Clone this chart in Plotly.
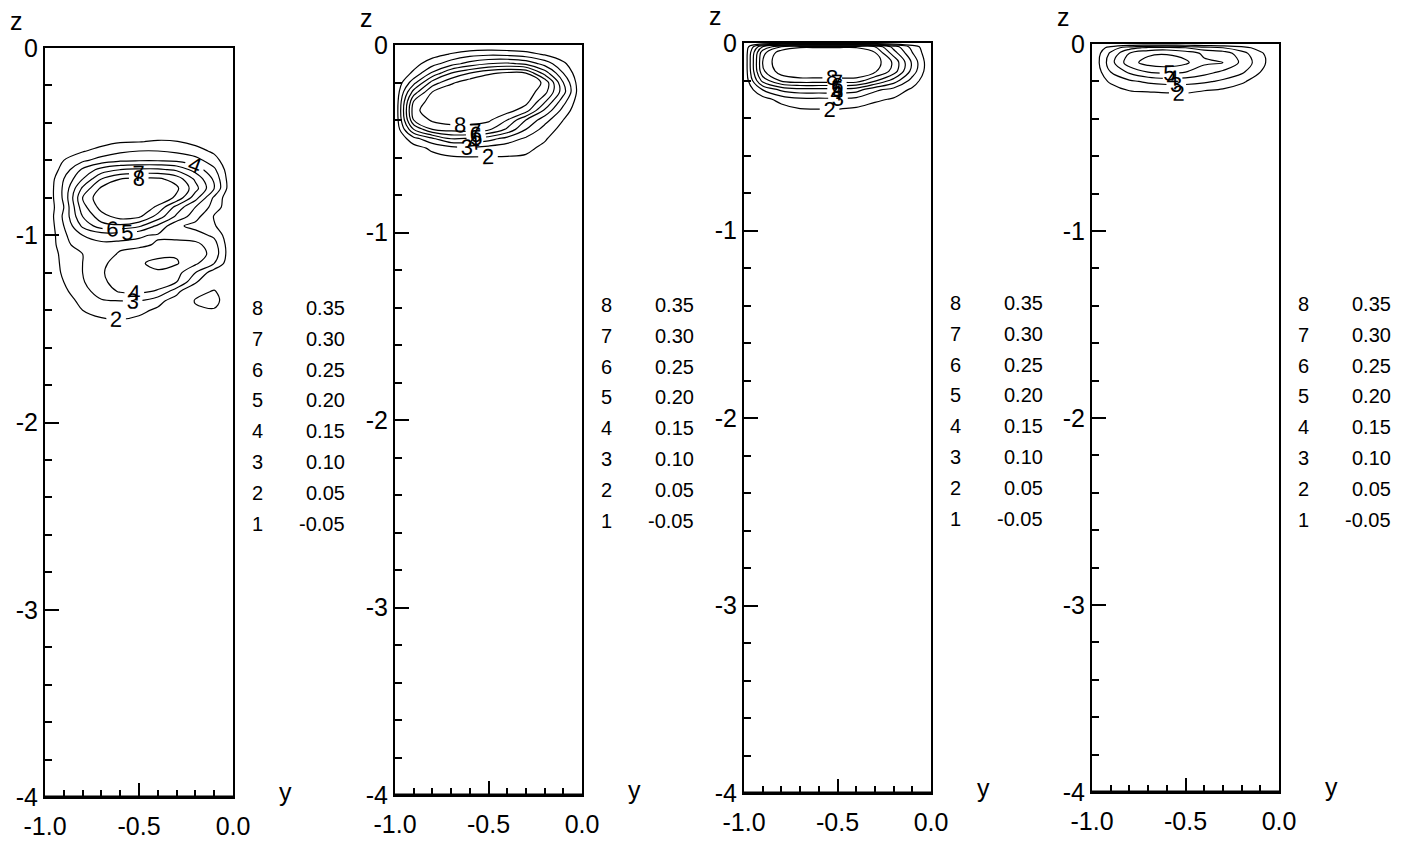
import plotly.graph_objects as go

FONT = "Liberation Sans, Arial, Helvetica, sans-serif"
W, H = 1412, 844

# contour level index -> value (shown as a key beside each panel)
LEVEL_IDS = [1, 2, 3, 4, 5, 6, 7, 8]
LEVEL_VALUES = [-0.05, 0.05, 0.10, 0.15, 0.20, 0.25, 0.30, 0.35]

# horizontal coordinate y of the field samples
Y_GRID = [-1.0, -0.9, -0.8, -0.7, -0.6, -0.5, -0.4, -0.3, -0.2, -0.1, 0.0]

# ---- panel 1: field sampled on rows of constant z -------------------------
Z_GRID_1 = [0.0, -0.45, -0.50, -0.55, -0.60, -0.65, -0.70, -0.75, -0.80, -0.85,
            -0.90, -0.95, -1.00, -1.05, -1.10, -1.15, -1.20, -1.25, -1.30,
            -1.35, -1.40, -1.45, -1.50, -4.0]
FIELD_1 = [
    [0, 0, 0, 0, 0, 0, 0, 0, 0, 0, 0],
    [0, 0, 0, 0.01, 0.02, 0.02, 0.02, 0.02, 0.01, 0, 0],
    [0, 0, 0.01, 0.03, 0.045, 0.048, 0.055, 0.052, 0.035, 0.01, 0],
    [0, 0.02, 0.045, 0.07, 0.09, 0.10, 0.10, 0.09, 0.07, 0.04, 0],
    [0, 0.05, 0.09, 0.12, 0.14, 0.145, 0.145, 0.14, 0.12, 0.07, 0],
    [0, 0.07, 0.16, 0.22, 0.25, 0.26, 0.26, 0.24, 0.18, 0.11, 0],
    [0, 0.10, 0.20, 0.30, 0.35, 0.36, 0.36, 0.33, 0.24, 0.14, 0],
    [0, 0.11, 0.26, 0.36, 0.40, 0.41, 0.40, 0.36, 0.27, 0.15, 0],
    [0, 0.11, 0.30, 0.39, 0.41, 0.41, 0.39, 0.34, 0.22, 0.09, 0],
    [0, 0.10, 0.28, 0.37, 0.40, 0.39, 0.34, 0.23, 0.15, 0.08, 0],
    [0, 0.11, 0.25, 0.33, 0.37, 0.36, 0.28, 0.19, 0.12, 0.045, 0],
    [0, 0.10, 0.21, 0.28, 0.29, 0.26, 0.19, 0.11, 0.085, 0.055, 0],
    [0, 0.09, 0.15, 0.17, 0.165, 0.155, 0.145, 0.135, 0.12, 0.09, 0],
    [0, 0.085, 0.125, 0.14, 0.14, 0.14, 0.155, 0.165, 0.165, 0.12, 0],
    [0, 0.07, 0.10, 0.13, 0.155, 0.17, 0.19, 0.195, 0.18, 0.13, 0],
    [0, 0.065, 0.10, 0.14, 0.17, 0.195, 0.21, 0.205, 0.16, 0.10, 0],
    [0, 0.06, 0.10, 0.145, 0.175, 0.195, 0.195, 0.17, 0.10, 0.02, 0],
    [0, 0.05, 0.095, 0.14, 0.17, 0.175, 0.17, 0.15, 0.06, -0.02, 0],
    [0, 0.04, 0.08, 0.125, 0.155, 0.16, 0.145, 0.07, -0.03, -0.055, 0],
    [0, 0.025, 0.065, 0.095, 0.10, 0.10, 0.07, 0.02, -0.055, -0.07, 0],
    [0, 0.01, 0.05, 0.07, 0.075, 0.065, 0.04, 0.0, -0.04, -0.045, 0],
    [0, 0, 0.03, 0.045, 0.05, 0.04, 0.02, 0, -0.02, -0.02, 0],
    [0, 0, 0.01, 0.02, 0.02, 0.015, 0.01, 0, -0.01, -0.01, 0],
    [0, 0, 0, 0, 0, 0, 0, 0, 0, 0, 0],
]

# ---- panel 2 ----------------------------------------------------------------
Z_GRID_2 = [0.0, -0.05, -0.10, -0.15, -0.20, -0.25, -0.30, -0.35, -0.40,
            -0.45, -0.50, -0.55, -0.60, -0.65, -4.0]
FIELD_2 = [
    [0, 0, 0, 0, 0, 0, 0, 0, 0, 0, 0],
    [0, 0.01, 0.03, 0.055, 0.08, 0.09, 0.085, 0.07, 0.045, 0.02, 0],
    [0, 0.03, 0.08, 0.13, 0.17, 0.20, 0.21, 0.19, 0.13, 0.06, 0],
    [0, 0.06, 0.16, 0.25, 0.30, 0.34, 0.36, 0.35, 0.23, 0.10, 0],
    [0, 0.13, 0.27, 0.34, 0.38, 0.40, 0.40, 0.39, 0.34, 0.15, 0],
    [0, 0.22, 0.35, 0.39, 0.40, 0.40, 0.40, 0.38, 0.32, 0.17, 0],
    [0, 0.30, 0.38, 0.40, 0.41, 0.41, 0.40, 0.37, 0.26, 0.12, 0],
    [0, 0.33, 0.39, 0.40, 0.40, 0.39, 0.37, 0.32, 0.19, 0.08, 0],
    [0, 0.30, 0.36, 0.38, 0.37, 0.36, 0.30, 0.20, 0.12, 0.05, 0],
    [0, 0.20, 0.30, 0.32, 0.33, 0.31, 0.24, 0.15, 0.08, 0.03, 0],
    [0, 0.08, 0.14, 0.20, 0.19, 0.17, 0.13, 0.09, 0.055, 0.02, 0],
    [0, 0.03, 0.06, 0.08, 0.09, 0.08, 0.07, 0.06, 0.04, 0.01, 0],
    [0, 0, 0.035, 0.045, 0.047, 0.047, 0.047, 0.045, 0.02, 0, 0],
    [0, 0, 0.01, 0.02, 0.02, 0.02, 0.02, 0.02, 0.01, 0, 0],
    [0, 0, 0, 0, 0, 0, 0, 0, 0, 0, 0],
]

# ---- panel 3 ----------------------------------------------------------------
Z_GRID_3 = [0.0, -0.02, -0.05, -0.10, -0.15, -0.20, -0.25, -0.30, -0.35,
            -0.40, -4.0]
FIELD_3 = [
    [0, 0, 0, 0, 0, 0, 0, 0, 0, 0, 0],
    [0, 0.20, 0.30, 0.34, 0.34, 0.34, 0.34, 0.30, 0.18, 0.08, 0],
    [0, 0.28, 0.38, 0.40, 0.40, 0.40, 0.40, 0.35, 0.22, 0.10, 0],
    [0, 0.30, 0.40, 0.42, 0.42, 0.42, 0.42, 0.38, 0.29, 0.14, 0],
    [0, 0.29, 0.38, 0.40, 0.40, 0.40, 0.40, 0.36, 0.28, 0.13, 0],
    [0, 0.22, 0.31, 0.33, 0.33, 0.33, 0.33, 0.26, 0.18, 0.08, 0],
    [0, 0.10, 0.16, 0.18, 0.18, 0.18, 0.17, 0.11, 0.08, 0.04, 0],
    [0, 0.03, 0.07, 0.09, 0.09, 0.09, 0.085, 0.06, 0.045, 0.01, 0],
    [0, 0.01, 0.03, 0.05, 0.052, 0.052, 0.045, 0.03, 0.02, 0, 0],
    [0, 0, 0, 0.01, 0.01, 0.01, 0.01, 0, 0, 0, 0],
    [0, 0, 0, 0, 0, 0, 0, 0, 0, 0, 0],
]

# ---- panel 4 ----------------------------------------------------------------
Z_GRID_4 = [0.0, -0.02, -0.05, -0.10, -0.15, -0.20, -0.25, -0.30, -0.35, -4.0]
FIELD_4 = [
    [0, 0, 0, 0, 0, 0, 0, 0, 0, 0, 0],
    [0, 0.07, 0.13, 0.16, 0.17, 0.15, 0.12, 0.10, 0.07, 0.03, 0],
    [0, 0.11, 0.20, 0.24, 0.245, 0.23, 0.19, 0.18, 0.12, 0.06, 0],
    [0, 0.13, 0.23, 0.27, 0.28, 0.26, 0.21, 0.20, 0.14, 0.07, 0],
    [0, 0.10, 0.16, 0.20, 0.21, 0.20, 0.17, 0.14, 0.11, 0.05, 0],
    [0, 0.06, 0.09, 0.11, 0.12, 0.12, 0.11, 0.09, 0.06, 0.02, 0],
    [0, 0.02, 0.05, 0.055, 0.06, 0.06, 0.05, 0.04, 0.02, 0, 0],
    [0, 0, 0.01, 0.01, 0.015, 0.02, 0.01, 0, 0, 0, 0],
    [0, 0, 0, 0, 0, 0, 0, 0, 0, 0, 0],
    [0, 0, 0, 0, 0, 0, 0, 0, 0, 0, 0],
]

X_TICKS = [-1.0, -0.5, 0.0]
X_TICK_TEXT = ["-1.0", "-0.5", "0.0"]
Z_TICKS = [0, -1, -2, -3, -4]
Z_TICK_TEXT = ["0", "-1", "-2", "-3", "-4"]

# plot boxes in screen pixels: left, right, top, bottom
BOXES = [
    (45, 233, 48, 797),
    (395, 582, 45, 795),
    (744, 931, 43, 793),
    (1092, 1279, 44, 792),
]
FIELDS = [(Z_GRID_1, FIELD_1), (Z_GRID_2, FIELD_2),
          (Z_GRID_3, FIELD_3), (Z_GRID_4, FIELD_4)]


def px_x(p):
    return p / W


def px_y(p):
    return 1 - p / H


fig = go.Figure()
annotations = []
shapes = []

for i, ((zg, field), (l, r, t, b)) in enumerate(zip(FIELDS, BOXES)):
    n = "" if i == 0 else str(i + 1)
    xa, ya = "x" + n, "y" + n

    # ascending z for the contour routine
    zs = list(reversed(zg))
    rows = list(reversed(field))

    for lid, lval in zip(LEVEL_IDS, LEVEL_VALUES):
        # shift the field so the level sits at its index; labels then show the index
        shifted = [[v - lval + lid for v in row] for row in rows]
        fig.add_trace(go.Contour(
            x=Y_GRID, y=zs, z=shifted,
            autocontour=False,
            contours=dict(start=lid, end=lid, size=1, coloring="none",
                          showlabels=True, labelformat=".0f",
                          labelfont=dict(family=FONT, size=22, color="black")),
            line=dict(color="black", width=1.2, smoothing=1.0),
            showscale=False, hoverinfo="skip",
            xaxis=xa, yaxis=ya,
        ))

    axis_common = dict(showline=True, linecolor="black", linewidth=2, mirror=True,
                       ticks="inside", ticklen=14, tickwidth=1.5, tickcolor="black",
                       showgrid=False, zeroline=False, automargin=False,
                       tickfont=dict(family=FONT, size=25, color="black"))
    fig.layout["xaxis" + n] = dict(
        axis_common, domain=[px_x(l), px_x(r)], range=[-1, 0], anchor=ya,
        tickmode="array", tickvals=X_TICKS, ticktext=X_TICK_TEXT,
        ticklabelstandoff=6,
        minor=dict(ticks="inside", ticklen=7, tickwidth=1.5, tickcolor="black",
                   tickmode="linear", tick0=0, dtick=0.1, showgrid=False),
    )
    fig.layout["yaxis" + n] = dict(
        axis_common, domain=[px_y(b), px_y(t)], range=[-4, 0], anchor=xa,
        tickmode="array", tickvals=Z_TICKS, ticktext=Z_TICK_TEXT,
        minor=dict(ticks="inside", ticklen=7, tickwidth=1.5, tickcolor="black",
                   tickmode="linear", tick0=0, dtick=0.2, showgrid=False),
    )

    # heavier bottom edge of the frame
    shapes.append(dict(type="line", xref=xa + " domain", yref=ya + " domain",
                       x0=0, x1=1, y0=0, y1=0,
                       line=dict(color="black", width=3)))

    # axis titles
    annotations.append(dict(text="z", x=px_x(l - 29), y=px_y(t - 27),
                            xref="paper", yref="paper", showarrow=False,
                            xanchor="center", yanchor="middle",
                            font=dict(family=FONT, size=25, color="black")))
    annotations.append(dict(text="y", x=px_x(r + 52), y=px_y(b - 5),
                            xref="paper", yref="paper", showarrow=False,
                            xanchor="center", yanchor="middle",
                            font=dict(family=FONT, size=25, color="black")))

    # level key
    for k, (lid, lval) in enumerate(zip(reversed(LEVEL_IDS), reversed(LEVEL_VALUES))):
        yy = t + 260 + k * 30.8
        annotations.append(dict(text=str(lid), x=px_x(r + 24), y=px_y(yy),
                                xref="paper", yref="paper", showarrow=False,
                                xanchor="center", yanchor="middle",
                                font=dict(family=FONT, size=20, color="black")))
        annotations.append(dict(text=f"{lval:.2f}", x=px_x(r + 114), y=px_y(yy),
                                xref="paper", yref="paper", showarrow=False,
                                xanchor="right", yanchor="middle",
                                font=dict(family=FONT, size=20, color="black")))

fig.update_layout(
    width=W, height=H,
    margin=dict(l=0, r=0, t=0, b=0),
    paper_bgcolor="white", plot_bgcolor="white",
    showlegend=False,
    annotations=annotations,
    shapes=shapes,
    font=dict(family=FONT, color="black"),
)

fig.write_html("out.html", include_plotlyjs=True, full_html=True,
               config={"displayModeBar": False})
